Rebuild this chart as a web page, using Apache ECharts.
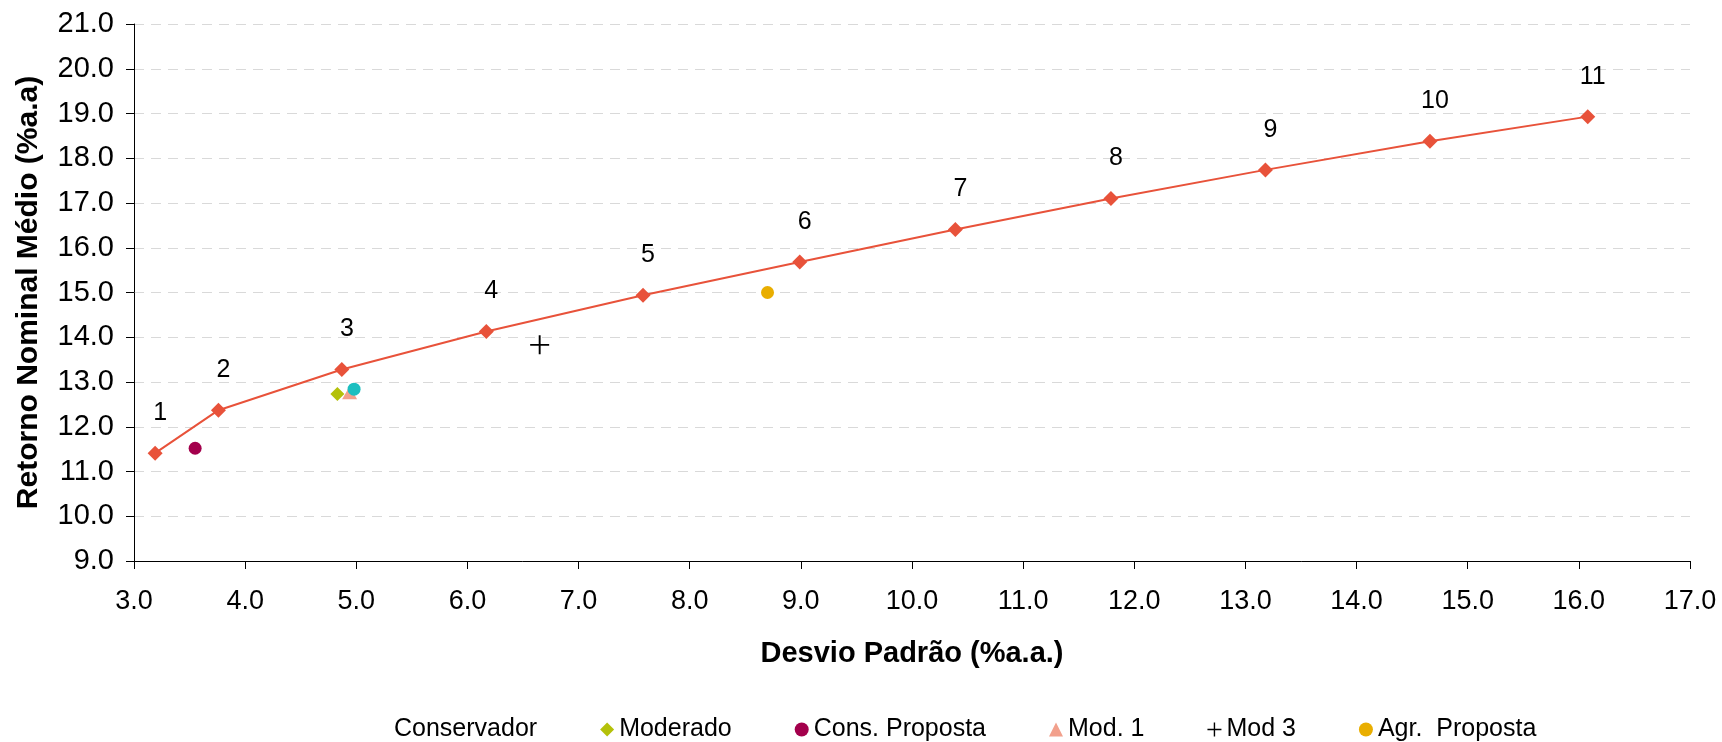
<!DOCTYPE html>
<html>
<head>
<meta charset="utf-8">
<script src="https://cdn.jsdelivr.net/npm/echarts@6/dist/echarts.min.js"></script>
<style>
  html, body { margin: 0; padding: 0; background: #fff; }
  #chart { width: 1722px; height: 742px; }
</style>
</head>
<body>
<div id="chart"></div>
<script>
// fronteira: desvio padrão x retorno
const conservador = [
  [3.19, 11.41], [3.76, 12.37], [4.87, 13.28], [6.17, 14.13], [7.58, 14.94],
  [8.99, 15.68], [10.39, 16.41], [11.79, 17.10], [13.18, 17.74], [14.66, 18.38],
  [16.08, 18.93],
];
const pointLabels = ["1", "2", "3", "4", "5", "6", "7", "8", "9", "10", "11"];
const moderado = [[4.83, 12.73]];
const consProposta = [[3.55, 11.52]];
const mod1 = [[4.94, 12.76]];
const mod2 = [[4.98, 12.84]];
const mod3 = [[6.65, 13.83]];
const agrProposta = [[8.70, 15.00]];
const legendNames = ["Conservador", "Moderado", "Cons. Proposta", "Mod. 1", "Mod 3", "Agr.  Proposta"];

const FONT = "Liberation Sans, Arial, sans-serif";
const crossPath = "path://M0,8.1H18V9.9H0Z M8.1,0H9.9V18H8.1Z";

const chart = echarts.init(document.getElementById("chart"));

function scatter(name, data, symbol, size, color) {
  return {
    name,
    type: "scatter",
    data,
    symbol,
    symbolSize: size,
    itemStyle: { color, opacity: 1 },
    z: 3,
  };
}

chart.setOption({
  animation: false,
  textStyle: { fontFamily: FONT },
  grid: { left: 134, right: 32, top: 24, bottom: 181 },
  legend: {
    left: 370,
    top: 712,
    itemWidth: 14,
    itemHeight: 14,
    itemGap: 63,
    textStyle: { fontSize: 25, color: "#000", fontFamily: FONT },
    data: legendNames.map((name) =>
      name === "Conservador"
        ? { name, icon: "circle", itemStyle: { opacity: 0 } }
        : name === "Mod 3"
        ? { name, icon: crossPath }
        : { name },
    ),
  },
  xAxis: {
    type: "value",
    min: 3,
    max: 17,
    interval: 1,
    name: "Desvio Padrão (%a.a.)",
    nameLocation: "middle",
    nameGap: 78,
    nameTextStyle: { fontSize: 29, fontWeight: "bold", color: "#000", fontFamily: FONT },
    axisLine: { onZero: false, lineStyle: { color: "#000", width: 1 } },
    axisTick: { show: true, inside: false, length: 8, lineStyle: { color: "#000" } },
    axisLabel: { fontSize: 27, color: "#000", margin: 27, formatter: (v) => v.toFixed(1) },
    splitLine: { show: false },
  },
  yAxis: {
    type: "value",
    min: 9,
    max: 21,
    interval: 1,
    name: "Retorno Nominal Médio (%a.a)",
    nameLocation: "middle",
    nameGap: 90,
    nameTextStyle: { fontSize: 30, fontWeight: "bold", color: "#000", fontFamily: FONT },
    axisLine: { show: true, onZero: false, lineStyle: { color: "#000", width: 1 } },
    axisTick: { show: true, inside: false, length: 8, lineStyle: { color: "#000" } },
    axisLabel: { fontSize: 29, color: "#000", margin: 20, formatter: (v) => v.toFixed(1) },
    splitLine: { show: true, lineStyle: { color: "#d9d9d9", width: 1, type: [10, 7] } },
  },
  series: [
    {
      name: "Conservador",
      type: "line",
      data: conservador,
      symbol: "diamond",
      symbolSize: 15,
      lineStyle: { color: "#e8523a", width: 2 },
      itemStyle: { color: "#e8523a" },
      label: {
        show: true,
        position: "inside",
        offset: [5, -40],
        fontSize: 25,
        color: "#000",
        fontFamily: FONT,
        formatter: (p) => pointLabels[p.dataIndex],
      },
      z: 2,
    },
    scatter("Moderado", moderado, "diamond", 14, "#b4c10a"),
    scatter("Cons. Proposta", consProposta, "circle", 13, "#a3004c"),
    scatter("Mod. 1", mod1, "triangle", [15, 13], "#f2a08c"),
    scatter("Mod. 2", mod2, "circle", 13, "#1cbfc0"),
    scatter("Mod 3", mod3, crossPath, 19, "#000"),
    scatter("Agr.  Proposta", agrProposta, "circle", 13, "#e9ae00"),
  ],
});
</script>
</body>
</html>
